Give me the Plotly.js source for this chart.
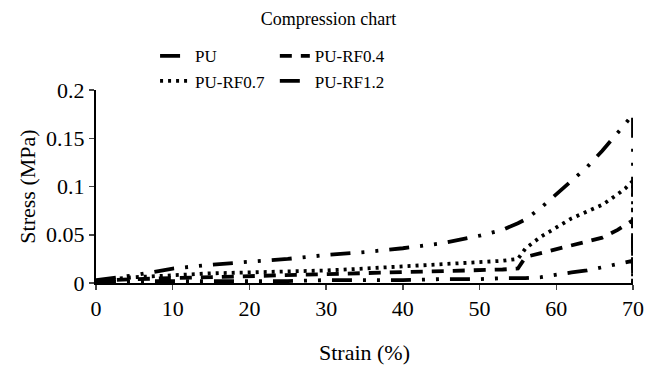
<!DOCTYPE html>
<html>
<head>
<meta charset="utf-8">
<script src="https://cdn.plot.ly/plotly-3.0.1.min.js"></script>
<style>html,body{margin:0;padding:0;background:#fff;}#chart{width:657px;height:365px;}</style>
</head>
<body>
<div id="chart"></div>
<script>
const strain = [0, 2, 5, 10, 15, 20, 25, 30, 35, 40, 45, 50, 53, 55, 56, 58, 60, 62, 64, 66, 68, 69, 70, 70];
const stressPU    = [0.001, 0.002, 0.002, 0.002, 0.002, 0.002, 0.002, 0.003, 0.003, 0.003, 0.004, 0.004, 0.005, 0.005, 0.005, 0.006, 0.009, 0.011, 0.013, 0.016, 0.019, 0.021, 0.023, 0];
const stressRF04  = [0.001, 0.003, 0.004, 0.005, 0.006, 0.007, 0.008, 0.009, 0.010, 0.011, 0.012, 0.013, 0.014, 0.015, 0.027, 0.031, 0.035, 0.038, 0.042, 0.047, 0.055, 0.060, 0.065, 0];
const stressRF07  = [0.002, 0.004, 0.006, 0.008, 0.010, 0.011, 0.012, 0.013, 0.015, 0.017, 0.019, 0.021, 0.023, 0.025, 0.036, 0.048, 0.058, 0.067, 0.074, 0.081, 0.092, 0.098, 0.106, 0];
const stressRF12  = [0.003, 0.005, 0.008, 0.015, 0.019, 0.022, 0.025, 0.029, 0.032, 0.036, 0.041, 0.049, 0.055, 0.062, 0.066, 0.078, 0.092, 0.105, 0.120, 0.137, 0.155, 0.165, 0.175, 0];
const seriesNames = ["PU", "PU-RF0.4", "PU-RF0.7", "PU-RF1.2"];
const xTicks = [0, 10, 20, 30, 40, 50, 60, 70];
const yTicks = [0, 0.05, 0.1, 0.15, 0.2];
const yTickText = ["0", "0.05", "0.1", "0.15", "0.2"];

const font = "'Liberation Serif', serif";
const dashDot = "20px,11px,3px,11px,3px,11px";
function tr(y, name, dash, legend) {
  return {x: strain, y: y, name: name, type: "scatter", mode: "lines",
    line: {color: "#000", width: 3.8, dash: dash}, legend: legend};
}
const data = [
  tr(stressPU, seriesNames[0], dashDot, "legend"),
  tr(stressRF07, seriesNames[2], "3px,5px", "legend"),
  tr(stressRF04, seriesNames[1], "12px,9px", "legend2"),
  tr(stressRF12, seriesNames[3], dashDot, "legend2")
];
const layout = {
  width: 657, height: 365,
  margin: {l: 96, r: 24, t: 90, b: 82},
  paper_bgcolor: "#fff", plot_bgcolor: "#fff",
  font: {family: font, color: "#000", size: 18},
  title: {text: "Compression chart", font: {family: font, size: 18, color: "#000"}, x: 0.5, xanchor: "center", y: 0.95, yanchor: "middle"},
  xaxis: {range: [0, 70], tickvals: xTicks, ticktext: xTicks.map(String), ticks: "outside", ticklen: 5, tickwidth: 1.5,
    showline: true, linecolor: "#000", linewidth: 2, showgrid: false, zeroline: false,
    tickfont: {family: font, size: 22}, title: {text: "Strain (%)", font: {family: font, size: 22}, standoff: 24}},
  yaxis: {range: [0, 0.2], tickvals: yTicks, ticktext: yTickText, ticks: "outside", ticklen: 5, tickwidth: 1.5,
    showline: true, linecolor: "#000", linewidth: 2, showgrid: false, zeroline: false,
    tickfont: {family: font, size: 22}, title: {text: "Stress (MPa)", font: {family: font, size: 22}, standoff: 4}},
  showlegend: true,
  legend: {x: 0.11, xanchor: "left", y: 1.11, yanchor: "middle", bgcolor: "rgba(0,0,0,0)", tracegroupgap: 0,
    font: {family: font, size: 17}, itemwidth: 30},
  legend2: {x: 0.333, xanchor: "left", y: 1.11, yanchor: "middle", bgcolor: "rgba(0,0,0,0)", tracegroupgap: 0,
    font: {family: font, size: 17}, itemwidth: 30}
};
Plotly.newPlot("chart", data, layout, {displayModeBar: false, staticPlot: true});
</script>
</body>
</html>
